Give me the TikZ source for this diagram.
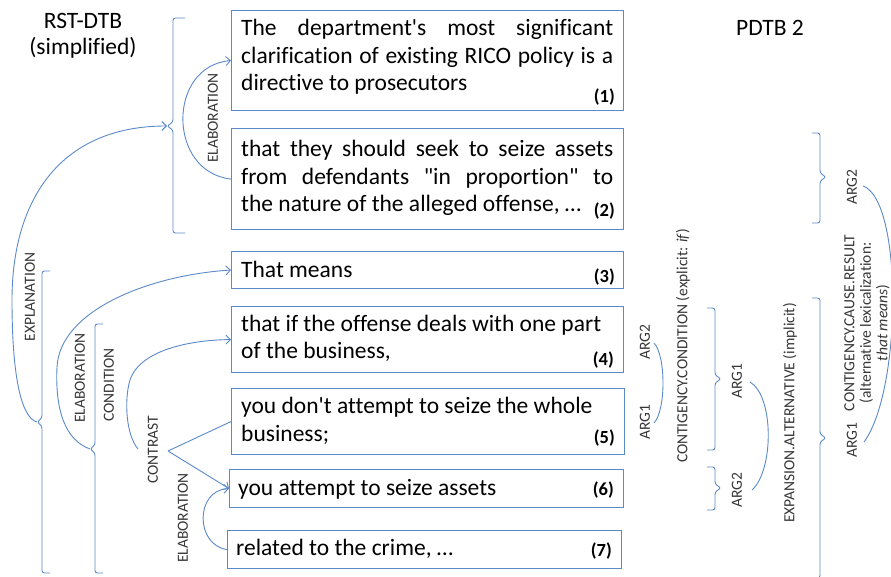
\documentclass[tikz,border=0pt]{standalone}
\usepackage{fontspec}
\setmainfont{Carlito}[Ligatures={NoCommon}]
\usetikzlibrary{arrows.meta}
\definecolor{lnblue}{RGB}{91,138,201}
\definecolor{lblc}{RGB}{55,55,55}
\newcommand{\bracepath}[7]{%
  \draw[brc] ({#2+#6},#3) -- (#2,#3) -- (#2,{#4-4}) -- ({#2-#7},#4) -- (#2,{#4+4}) -- (#2,#5) -- ({#2+#6},#5);
  \coordinate (#1) at ({#2-#7},#4);}
\newcommand{\jl}[1]{\makebox[372pt][s]{#1}}
\begin{document}
\begin{tikzpicture}[x=1pt,y=-1pt,
  box/.style={draw=lnblue, line width=1.1pt, anchor=north west, inner sep=0pt},
  txt/.style={anchor=base west, inner sep=0pt, font=\fontsize{23.5}{28}\selectfont, text=black},
  num/.style={anchor=base east, inner sep=0pt, font=\bfseries\fontsize{18.5}{18.5}\selectfont, text=black},
  lbl/.style={rotate=90, inner sep=0pt, font=\fontsize{15.5}{17.5}\selectfont, text=lblc},
  hdr/.style={anchor=base, inner sep=0pt, font=\fontsize{23.5}{28}\selectfont, text=black},
  con/.style={draw=lnblue, line width=0.9pt},
  arr/.style={con, -{Straight Barb[length=4.5pt,width=9pt]}},
  brc/.style={draw=lnblue, line width=0.9pt, rounded corners=2.5pt}]
\fill[white] (0,0) rectangle (891,577);
\useasboundingbox (0,0) rectangle (891,577);

% headers
\node[hdr] (h1) at (83,29) {RST-DTB};
\node[hdr] (h2) at (83,55) {(simplified)};
\node[hdr] (h3) at (770,36) {PDTB 2};

% boxes
\node[box, minimum width=392pt, minimum height=100pt] (b1) at (231,10) {};
\node[box, minimum width=392pt, minimum height=101pt] (b2) at (231,128) {};
\node[box, minimum width=392pt, minimum height=37pt] (b3) at (231,251) {};
\node[box, minimum width=392pt, minimum height=66pt] (b4) at (231,306) {};
\node[box, minimum width=393pt, minimum height=66pt] (b5) at (231,388) {};
\node[box, minimum width=394pt, minimum height=38pt] (b6) at (229,469) {};
\node[box, minimum width=394pt, minimum height=38pt] (b7) at (227,530) {};

% box texts
\node[txt] (t1) at (241,36) {\parbox[t]{372pt}{\baselineskip=27.5pt
  \jl{The department\textquotesingle s most significant}\\
  \jl{clarification of existing RICO policy is a}\\
  directive to prosecutors}};
\node[txt] (t2) at (241,157) {\parbox[t]{372pt}{\baselineskip=27.5pt
  \jl{that they should seek to seize assets}\\
  \jl{from defendants \textquotedbl in proportion\textquotedbl\ to}\\
  the nature of the alleged offense, …}};
\node[txt] (t3) at (241,277) {That means};
\node[txt] (t4) at (241,331) {\parbox[t]{372pt}{\baselineskip=27.5pt
  that if the offense deals with one part\\
  of the business,}};
\node[txt] (t5) at (241,413) {\parbox[t]{372pt}{\baselineskip=28.5pt
  you don\textquotesingle t attempt to seize the whole\\
  business;}};
\node[txt] (t6) at (238,495) {you attempt to seize assets};
\node[txt] (t7) at (236,555) {related to the crime, …};

% numbers
\node[num] (n1) at (615,103) {(1)};
\node[num] (n2) at (615,217) {(2)};
\node[num] (n3) at (615,283) {(3)};
\node[num] (n4) at (614,365) {(4)};
\node[num] (n5) at (615,443) {(5)};
\node[num] (n6) at (614,495) {(6)};
\node[num] (n7) at (612,556) {(7)};

% left braces
\bracepath{B1}{173}{18}{126}{233}{12}{6}
\bracepath{B2}{42}{271}{422}{573}{8}{5}
\bracepath{B3}{95}{324}{449}{573}{8}{5}
% right braces
\bracepath{R1}{820}{133}{177}{223}{(-8)}{(-6)}
\bracepath{R2}{820}{298}{438}{578}{(-8)}{(-6)}
\bracepath{R3}{715}{308}{379}{450}{(-8)}{(-6)}
\bracepath{R4}{715}{467}{488}{510}{(-8)}{(-6)}

% left labels
\node[lbl] (l1) at (213,118) {ELABORATION};
\node[lbl] (l2) at (30,297) {EXPLANATION};
\node[lbl] (l3) at (80,378) {ELABORATION};
\node[lbl] (l4) at (109,385) {CONDITION};
\node[lbl] (l5) at (153,450) {CONTRAST};
\node[lbl] (l6) at (183,518) {ELABORATION};

% right labels
\node[lbl] (r1) at (645,342) {ARG2};
\node[lbl] (r2) at (645,422) {ARG1};
\node[lbl] (r3) at (683,346) {CONTIGENCY.CONDITION (explicit: \textit{if})};
\node[lbl] (r4) at (737,381) {ARG1};
\node[lbl] (r5) at (737,490) {ARG2};
\node[lbl] (r6) at (790,413) {EXPANSION.ALTERNATIVE (implicit)};
\node[lbl] (r7) at (852,187) {ARG2};
\node[lbl] (r8) at (852,440) {ARG1};
\node[lbl, align=center, font=\fontsize{15.5}{16.5}\selectfont] (r9) at (867,323) {CONTIGENCY.CAUSE.RESULT\\(alternative lexicalization:\\\textit{that means})};

% connector end coordinates
\coordinate (cnd) at (138,449);
\coordinate (ctr) at (168,451);
\coordinate (ca2) at (654,343);
\coordinate (ca1) at (654,423);
\coordinate (ea1) at (750,382);
\coordinate (ea2) at (752,490);
\coordinate (ra2) at (863,186);
\coordinate (ra1) at (864,442);

% RST connectors
\draw[arr] (B2) .. controls (22,418) and (12,380) .. (12,300) .. controls (12,200) and (60,126) .. (B1);
\draw[arr] (b2.west) .. controls (167,172) and (167,66) .. (b1.west);
\draw[arr] (B3) .. controls (65,440) and (55,410) .. (57,367) .. controls (60,310) and (150,275) .. (b3.west);
\draw[arr] (cnd) .. controls (126,435) and (124,400) .. (130,380) .. controls (140,350) and (190,340) .. (b4.west);
\draw[con] (ctr) -- (b5.west);
\draw[arr] (ctr) -- (b6.west);
\draw[arr] (b7.west) .. controls (195,545) and (195,490) .. (b6.west);

% PDTB connectors
\draw[con] (ca2) .. controls (666,356) and (666,410) .. (ca1);
\draw[con] (ea1) .. controls (774,396) and (774,470) .. (ea2);
\draw[con] (ra2) .. controls (903,200) and (902,390) .. (ra1);
\end{tikzpicture}
\end{document}
